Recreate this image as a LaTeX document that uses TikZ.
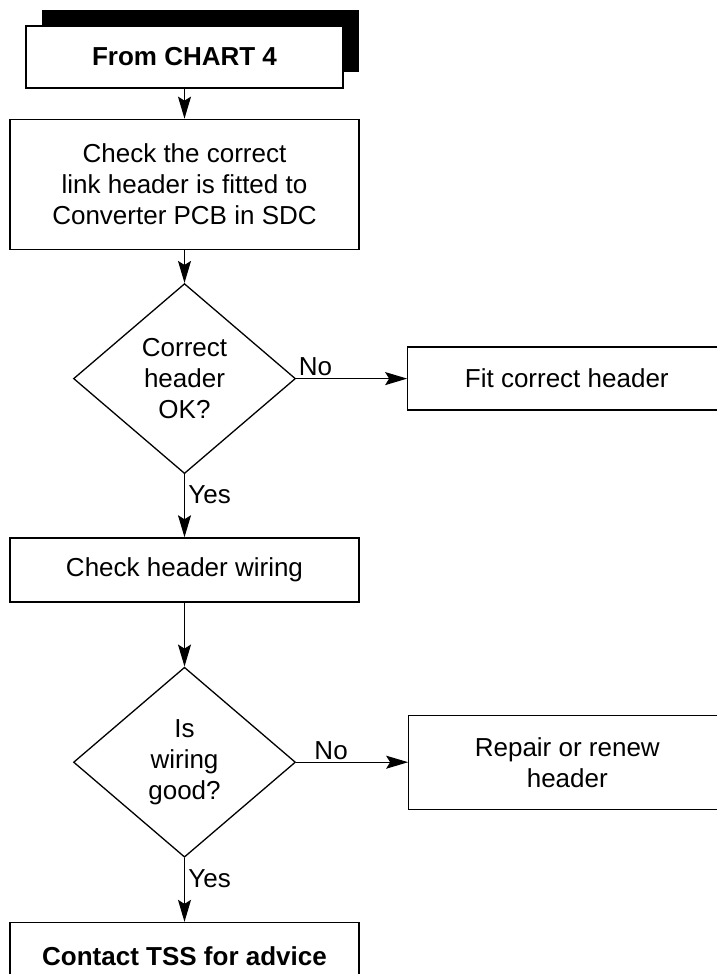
\documentclass[tikz,border=0pt]{standalone}
\usepackage{fontspec}
\setmainfont{Liberation Sans}
\usetikzlibrary{arrows.meta,positioning,shapes.geometric,shadows}

\begin{document}
\begin{tikzpicture}[
    font=\fontsize{26}{31}\selectfont,line width=1.3pt,
    box/.style={draw,fill=white,align=center,inner sep=4pt},
    decision/.style={diamond,draw,fill=white,align=center,inner sep=0pt,
                     minimum width=222pt,minimum height=190pt},
    ar/.style={-{Stealth[length=22pt,width=13pt,inset=4pt]},line width=1.3pt},
  ]
  \useasboundingbox (0,0) rectangle (717pt,-974pt);

  \node[box,minimum width=317pt,minimum height=62pt,
        drop shadow={shadow xshift=16pt,shadow yshift=16pt,fill=black,opacity=1}]
        (start) at (184.5pt,-57pt) {\bfseries From CHART 4};
  \node[box,minimum width=349pt,minimum height=130pt,below=30pt of start] (linkcheck)
    {Check the correct\\link header is fitted to\\Converter PCB in SDC};
  \node[decision,below=33pt of linkcheck] (headerok) {Correct\\header\\OK?};
  \node[box,minimum width=318pt,minimum height=63pt,right=111pt of headerok] (fithdr)
    {Fit correct header};
  \node[box,minimum width=349pt,minimum height=64pt,below=63pt of headerok] (wirecheck)
    {Check header wiring};
  \node[decision,below=64pt of wirecheck] (wireok) {Is\\wiring\\good?};
  \node[box,minimum width=317pt,minimum height=94pt,right=112pt of wireok] (repair)
    {Repair or renew\\header};
  \node[box,minimum width=349pt,minimum height=68pt,below=64pt of wireok] (tss)
    {\bfseries Contact TSS for advice};

  \draw[ar] (start) -- (linkcheck);
  \draw[ar] (linkcheck) -- (headerok);
  \draw[ar] (headerok) -- node[pos=0,anchor=south west,inner sep=2pt] {No} (fithdr);
  \draw[ar] (headerok) -- node[pos=0.32,right] {Yes} (wirecheck);
  \draw[ar] (wirecheck) -- (wireok);
  \draw[ar] (wireok) -- node[pos=0.14,anchor=south west,inner sep=2pt] {No} (repair);
  \draw[ar] (wireok) -- node[pos=0.32,right] {Yes} (tss);
\end{tikzpicture}
\end{document}
